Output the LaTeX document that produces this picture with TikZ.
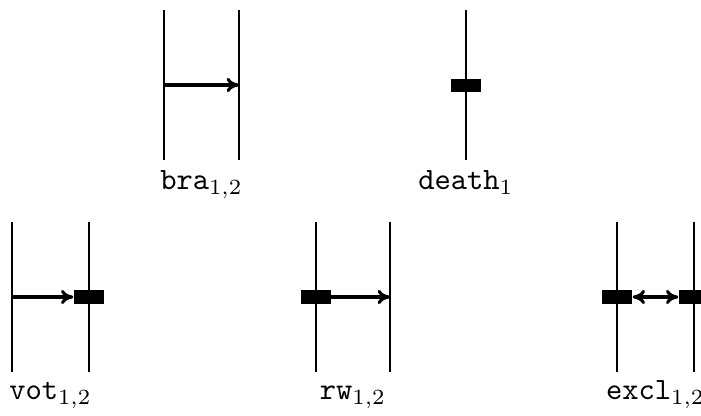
\documentclass[tikz,border=0pt]{standalone}
\usetikzlibrary{arrows.meta}
\begin{document}
\begin{tikzpicture}[x=0.3226pt,y=-0.3226pt,
  wire/.style={line width=0.35pt},
  jump/.style={line width=1pt,-{To[length=4pt,width=4.6pt]}},
  jumpboth/.style={line width=1pt,{To[length=4pt,width=4.6pt]}-{To[length=4pt,width=4.6pt]}},
  blk/.style={fill=black,draw=none,inner sep=0pt,minimum width=9.7pt,minimum height=4.2pt},
  lbl/.style={anchor=base,inner sep=0pt,font=\ttfamily}]
\useasboundingbox (0,0) rectangle (701,416);
% bra
\coordinate (b1t) at (164,10); \coordinate (b1b) at (164,160);
\coordinate (b2t) at (239,10); \coordinate (b2b) at (239,160);
\draw[wire] (b1t) -- (b1b); \draw[wire] (b2t) -- (b2b);
\coordinate (b1m) at (164,85); \coordinate (b2m) at (239,85);
\draw[jump] (b1m) -- (b2m);
\node[lbl] (lb) at (201.5,190) {bra$_{1,2}$};
% death
\coordinate (dt) at (466,10); \coordinate (db) at (466,160);
\draw[wire] (dt) -- (db);
\node[blk] (dk) at (466,85.5) {};
\node[lbl] (ld) at (466,190) {death$_1$};
% vot
\coordinate (v1t) at (12,222); \coordinate (v1b) at (12,372);
\coordinate (v2t) at (89,222); \coordinate (v2b) at (89,372);
\draw[wire] (v1t) -- (v1b); \draw[wire] (v2t) -- (v2b);
\coordinate (v1m) at (12,297);
\node[blk] (vk) at (89,297) {};
\draw[jump] (v1m) -- (vk.west);
\node[lbl] (lv) at (50.5,400) {vot$_{1,2}$};
% rw
\coordinate (r1t) at (316,222); \coordinate (r1b) at (316,372);
\coordinate (r2t) at (390,222); \coordinate (r2b) at (390,372);
\draw[wire] (r1t) -- (r1b); \draw[wire] (r2t) -- (r2b);
\node[blk] (rk) at (316,297) {};
\coordinate (r2m) at (390,297);
\draw[jump] ([xshift=-0.5pt]rk.east) -- (r2m);
\node[lbl] (lr) at (353,400) {rw$_{1,2}$};
% excl
\coordinate (e1t) at (617,222); \coordinate (e1b) at (617,372);
\coordinate (e2t) at (694,222); \coordinate (e2b) at (694,372);
\draw[wire] (e1t) -- (e1b); \draw[wire] (e2t) -- (e2b);
\node[blk] (ek1) at (617,297) {};
\node[blk] (ek2) at (694,297) {};
\draw[jumpboth] (ek1.east) -- (ek2.west);
\node[lbl] (le) at (655.5,400) {excl$_{1,2}$};
\end{tikzpicture}
\end{document}
